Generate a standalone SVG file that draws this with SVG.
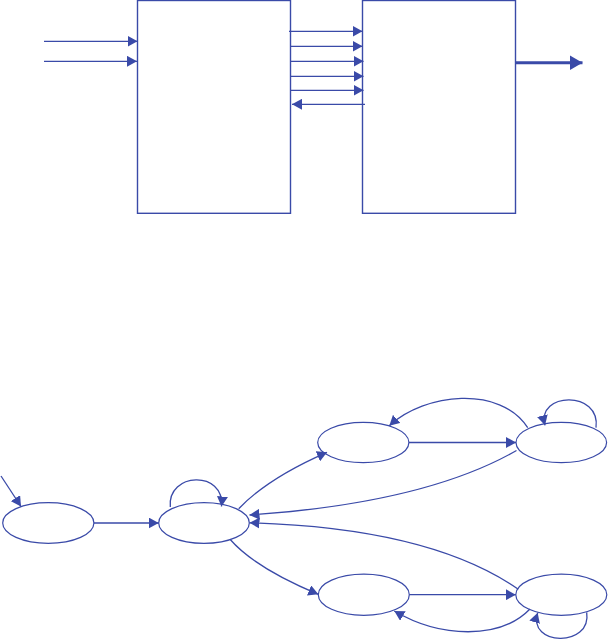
<svg xmlns="http://www.w3.org/2000/svg" width="608" height="642" viewBox="0 0 608 642">
<style>
.box{fill:#fff;stroke:#3a4aa8;stroke-width:1.4}
.st{fill:#fff;stroke:#3a4aa8;stroke-width:1.2}
.e{fill:none;stroke:#3a4aa8;stroke-width:1.3;marker-end:url(#a)}
.n{fill:none;stroke:#3a4aa8;stroke-width:1.3}
.big{fill:none;stroke:#3a4aa8;stroke-width:3;marker-end:url(#b)}
</style>
<defs>
<marker id="a" viewBox="0 0 10 11" markerWidth="10" markerHeight="11" refX="10" refY="5.5" markerUnits="userSpaceOnUse" orient="auto"><path d="M0,0 L10,5.5 L0,11 z" fill="#3a4aa8"/></marker>
<marker id="b" viewBox="0 0 13 15" markerWidth="13" markerHeight="15" refX="13" refY="7.5" markerUnits="userSpaceOnUse" orient="auto"><path d="M0,0 L13,7.5 L0,15 z" fill="#3a4aa8"/></marker>
</defs>
<rect width="608" height="642" fill="#fff"/>
<g id="box1"><rect class="box" x="137.5" y="0.5" width="153" height="212.8"/></g>
<g id="box2"><rect class="box" x="362.5" y="0.5" width="153" height="212.8"/></g>
<g id="state1"><ellipse class="st" cx="48.3" cy="523" rx="45.6" ry="20.3"/></g>
<g id="state2"><ellipse class="st" cx="204" cy="523" rx="45.3" ry="20.3"/></g>
<g id="state3"><ellipse class="st" cx="363.3" cy="442.5" rx="45.6" ry="20.2"/></g>
<g id="state4"><ellipse class="st" cx="561.3" cy="442.5" rx="45.3" ry="20.2"/></g>
<g id="state5"><ellipse class="st" cx="363.8" cy="594.7" rx="45.5" ry="20.6"/></g>
<g id="state6"><ellipse class="st" cx="561.3" cy="594.7" rx="45.5" ry="20.6"/></g>
<g id="connectors">
<line class="e" x1="44" y1="41.3" x2="137.5" y2="41.3"/>
<line class="e" x1="44" y1="61.3" x2="137" y2="61.3"/>
<line class="e" x1="289" y1="31.3" x2="362.5" y2="31.3"/>
<line class="e" x1="290.5" y1="46.3" x2="362.5" y2="46.3"/>
<line class="e" x1="290.5" y1="61.3" x2="363.5" y2="61.3"/>
<line class="e" x1="290.5" y1="76.3" x2="363.5" y2="76.3"/>
<line class="e" x1="290.5" y1="90.3" x2="363.5" y2="90.3"/>
<line class="e" x1="365" y1="104.3" x2="292" y2="104.3"/>
<line class="big" x1="515.5" y1="62.7" x2="582.5" y2="62.7"/>
<line class="e" x1="1" y1="476" x2="21" y2="506.5"/>
<line class="e" x1="94" y1="523" x2="158.7" y2="523"/>
<path class="e" d="M170.3,507 C167,472 225,470 221.5,506.5"/>
<path class="e" d="M238.7,508.7 Q268,478 327,452.3"/>
<line class="e" x1="409" y1="442.5" x2="516" y2="442.5"/>
<path class="e" d="M527.7,427.7 C500,385 425,393 389.3,425.7"/>
<path class="e" d="M596,427.7 C601,390 536,392 545,425.3"/>
<path class="e" d="M516.5,450.5 Q425,503 249.5,515"/>
<path class="e" d="M230,539.3 Q255,568 318.3,594.3"/>
<line class="e" x1="409.3" y1="594.7" x2="515.8" y2="594.7"/>
<path class="e" d="M518.3,589.3 Q430,528 249.5,522.8"/>
<path class="e" d="M530,609 C500,640 440,638 394.3,611"/>
<path class="e" d="M586.7,612.3 C592,648 527,646 537.7,612.7"/>
</g>
</svg>
